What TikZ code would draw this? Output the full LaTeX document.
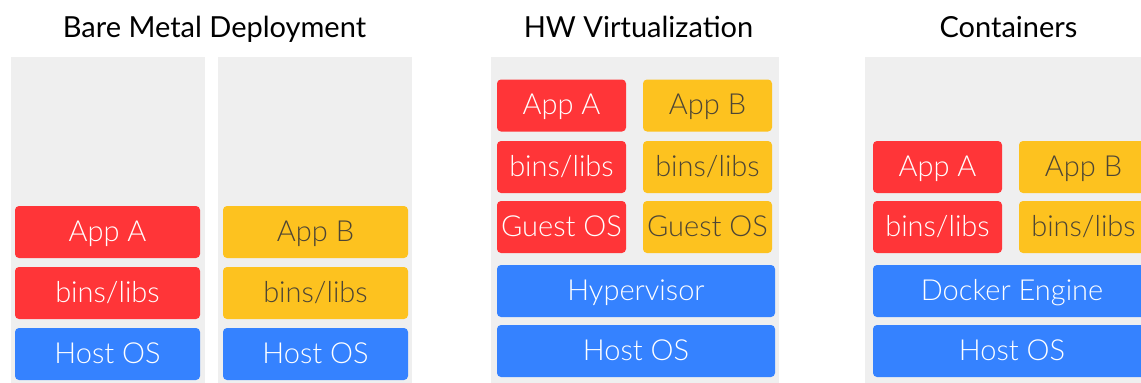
\documentclass[tikz,border=0pt]{standalone}
\usepackage{fontspec}
\setmainfont{Lato}
\newfontfamily\lightfont{Lato Light}
\definecolor{cred}{HTML}{FF3538}
\definecolor{cyel}{HTML}{FDC21F}
\definecolor{cblue}{HTML}{3582FF}
\definecolor{cgray}{HTML}{EFEFEF}
\definecolor{cdark}{HTML}{4D4535}
\begin{document}
\begin{tikzpicture}[x=1pt,y=-1pt,
  panel/.style={fill=cgray,draw=none},
  box/.style={rounded corners=4pt,inner sep=0pt,minimum height=52pt,
    font=\lightfont\fontsize{29}{31}\selectfont,text height=20pt,text depth=2pt},
  redbox/.style={box,fill=cred,text=white,minimum width=129pt},
  yelbox/.style={box,fill=cyel,text=cdark,minimum width=129pt},
  bluebox/.style={box,fill=cblue,text=white,minimum width=278pt},
  title/.style={font=\fontsize{29}{31}\selectfont,anchor=base,text=black,inner sep=0pt}]
\useasboundingbox (0,0) rectangle (1141,383);
\clip (0,0) rectangle (1141,383);
% panels
\fill[panel] (11,57) rectangle (205,390);
\fill[panel] (218,57) rectangle (412,390);
\fill[panel] (491,57) rectangle (779,390);
\fill[panel] (865,57) rectangle (1170,390);
% titles
\node[title] (t1) at (214.5,37) {Bare Metal Deployment};
\node[title] (t2) at (638.5,37) {HW Virtualization};
\node[title] (t3) at (1008.5,37) {Containers};
% bare metal
\node[redbox,minimum width=185pt] (b1a) at (107.5,232) {App A};
\node[redbox,minimum width=185pt] (b1l) at (107.5,293) {bins/libs};
\node[bluebox,minimum width=185pt] (b1h) at (107.5,354) {Host OS};
\node[yelbox,minimum width=185pt] (b2a) at (315.5,232) {App B};
\node[yelbox,minimum width=185pt] (b2l) at (315.5,293) {bins/libs};
\node[bluebox,minimum width=185pt] (b2h) at (315.5,354) {Host OS};
% virtualization
\node[redbox] (vaa) at (561.5,105.5) {App A};
\node[redbox] (val) at (561.5,167) {bins/libs};
\node[redbox] (vag) at (561.5,227) {Guest OS};
\node[yelbox] (vba) at (707.5,105.5) {App B};
\node[yelbox] (vbl) at (707.5,167) {bins/libs};
\node[yelbox] (vbg) at (707.5,227) {Guest OS};
\node[bluebox] (vhy) at (636,291) {Hypervisor};
\node[bluebox] (vho) at (636,351) {Host OS};
% containers
\node[redbox] (caa) at (937.5,167) {App A};
\node[redbox] (cal) at (937.5,227) {bins/libs};
\node[yelbox] (cba) at (1083.5,167) {App B};
\node[yelbox] (cbl) at (1083.5,227) {bins/libs};
\node[bluebox] (cde) at (1012,291) {Docker Engine};
\node[bluebox] (cho) at (1012,351) {Host OS};
\end{tikzpicture}
\end{document}
